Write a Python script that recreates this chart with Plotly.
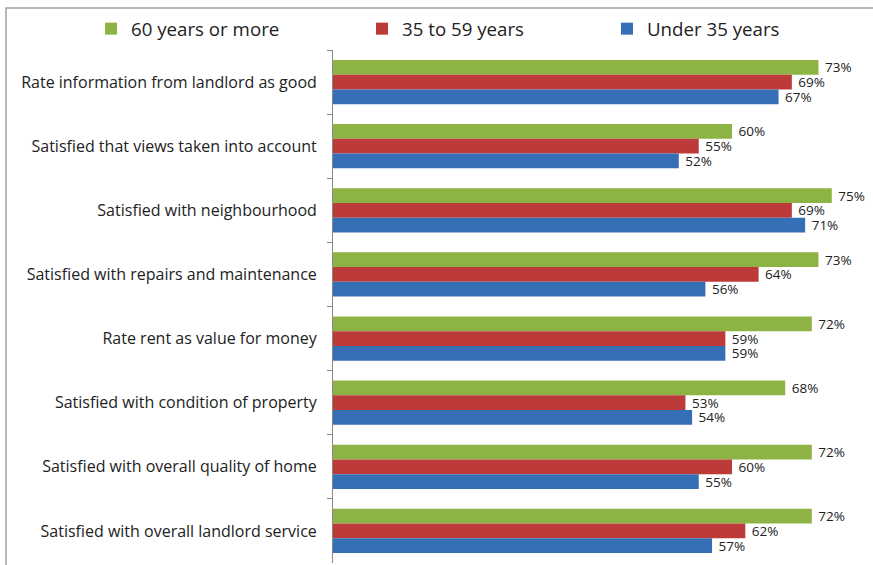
import plotly.graph_objects as go

categories = [
    "Rate information from landlord as good",
    "Satisfied that views taken into account",
    "Satisfied with neighbourhood",
    "Satisfied with repairs and maintenance",
    "Rate rent as value for money",
    "Satisfied with condition of property",
    "Satisfied with overall quality of home",
    "Satisfied with overall landlord service",
]
series_names = ["60 years or more", "35 to 59 years", "Under 35 years"]
values_60_plus = [73, 60, 75, 73, 72, 68, 72, 72]
values_35_59 = [69, 55, 69, 64, 59, 53, 60, 62]
values_under_35 = [67, 52, 71, 56, 59, 54, 55, 57]
colors = ["#8DB345", "#BC3B39", "#376FB6"]
legend_ids = ["legend", "legend2", "legend3"]
legend_x_px = [91, 362, 607]

FONT = "Open Sans"
W, H = 873, 565

fig = go.Figure()
for name, vals, col, lid in zip(series_names, [values_60_plus, values_35_59, values_under_35], colors, legend_ids):
    fig.add_trace(go.Bar(
        y=categories, x=vals, name=name, orientation="h",
        marker=dict(color=col, line=dict(width=0)),
        text=[f"\u00a0{v}%" for v in vals], textposition="outside",
        textfont=dict(family=FONT, size=13.5, color="#222222"),
        constraintext="none",
        cliponaxis=False, legend=lid,
    ))

legend_common = dict(
    orientation="h", xref="container", yref="container",
    y=1 - 29 / H, xanchor="left", yanchor="middle",
    font=dict(family=FONT, size=18.7, color="#222222"),
    bgcolor="rgba(0,0,0,0)",
)

fig.update_layout(
    width=W, height=H,
    margin=dict(l=333, r=8, t=50, b=2, autoexpand=False),
    paper_bgcolor="white", plot_bgcolor="white",
    barmode="group", bargap=0.31, bargroupgap=0,
    font=dict(family=FONT, size=16, color="#222222"),
    showlegend=True,
    legend=dict(x=legend_x_px[0] / W, **legend_common),
    legend2=dict(x=legend_x_px[1] / W, **legend_common),
    legend3=dict(x=legend_x_px[2] / W, **legend_common),
    xaxis=dict(range=[0, 80], showgrid=False, showticklabels=False,
               zeroline=False, showline=False, ticks=""),
    yaxis=dict(autorange="reversed", showgrid=False, showline=True,
               linecolor="#888888", linewidth=1, ticks="outside",
               tickson="boundaries", ticklen=5, tickcolor="#888888",
               ticklabelstandoff=12, automargin=False),
    shapes=[dict(type="rect", xref="paper", yref="paper",
                 x0=(6 - 333) / 532, x1=1.2, y0=-0.2, y1=(563 - 8) / 513,
                 line=dict(color="#A0A0A0", width=1.5), layer="above")],
)

fig.write_html(
    "out.html",
    config={"displayModeBar": False},
    post_script="document.body.style.margin='0';document.body.style.overflow='hidden';",
)
